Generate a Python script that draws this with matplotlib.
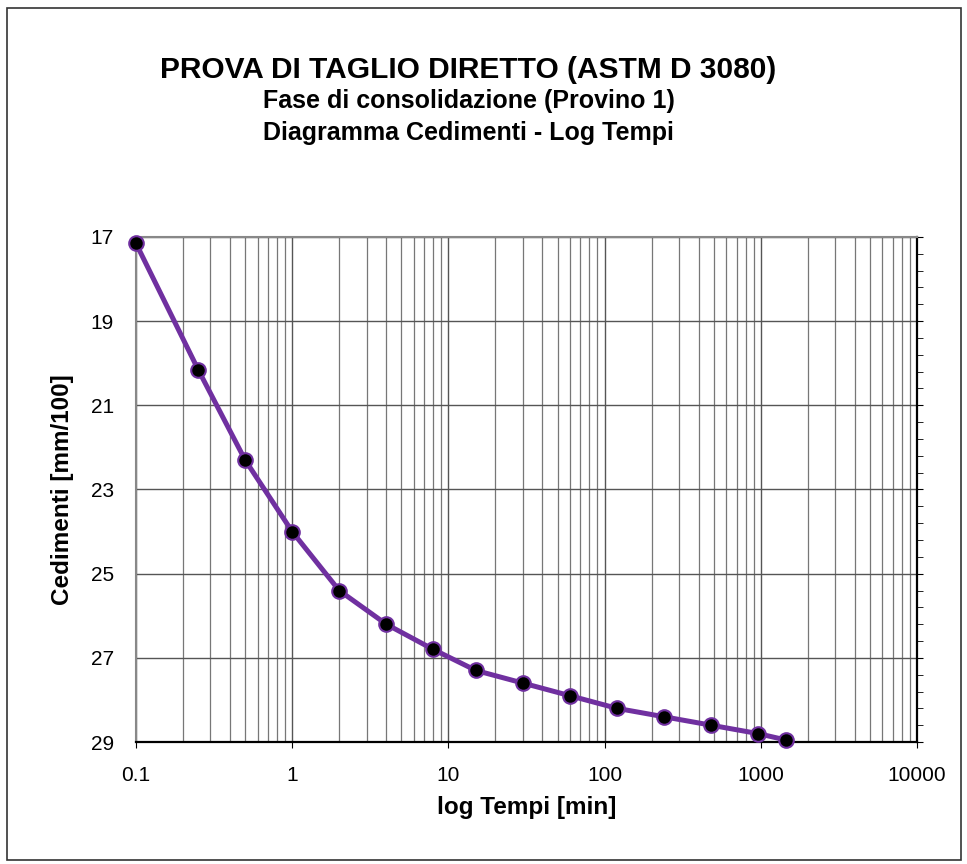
import matplotlib
matplotlib.use("Agg")
import matplotlib.pyplot as plt
from matplotlib.ticker import FixedLocator, NullFormatter, LogLocator
from matplotlib.patches import Rectangle

plt.rcParams["font.family"] = ["Liberation Sans", "DejaVu Sans"]

tempi = [0.1, 0.25, 0.5, 1, 2, 4, 8, 15, 30, 60, 120, 240, 480, 960, 1440]
cedimenti = [17.15, 20.15, 22.3, 24.0, 25.4, 26.2, 26.8, 27.3, 27.6, 27.9, 28.2, 28.4, 28.6, 28.8, 28.95]

y_ticks = [17, 19, 21, 23, 25, 27, 29]
x_ticks = [0.1, 1, 10, 100, 1000, 10000]
x_labels = ["0.1", "1", "10", "100", "1000", "10000"]

fig = plt.figure(figsize=(9.67, 8.64), dpi=100)
fig.patches.append(Rectangle((0.007, 0.005), 0.987, 0.986, transform=fig.transFigure,
                             fill=False, edgecolor="#333333", linewidth=1.2))

ax = fig.add_axes([0.1406, 0.1412, 0.8077, 0.5845])
ax.set_xscale("log")
ax.set_xlim(0.1, 10000)
ax.set_ylim(29, 17)

ax.xaxis.set_major_locator(FixedLocator(x_ticks))
ax.set_xticklabels(x_labels)
ax.xaxis.set_minor_locator(LogLocator(base=10, subs=range(2, 10)))
ax.xaxis.set_minor_formatter(NullFormatter())
ax.set_yticks(y_ticks)
ax.set_yticks([17 + 0.4 * i for i in range(31)], minor=True)

ax.grid(True, which="major", axis="both", color="#555555", linewidth=1)
ax.grid(True, which="minor", axis="x", color="#777777", linewidth=0.9)

ax.tick_params(axis="x", which="major", direction="out", length=4, labelsize=15, pad=13)
ax.tick_params(axis="x", which="minor", length=0)
ax.tick_params(axis="y", which="both", left=False, right=True, labelleft=True,
               labelright=False, direction="out", length=4, labelsize=15, pad=12)

for s in ["left", "top"]:
    ax.spines[s].set_color("#888888")
    ax.spines[s].set_linewidth(1.5)
for s in ["bottom", "right"]:
    ax.spines[s].set_color("black")
    ax.spines[s].set_linewidth(1.6)

ax.plot(tempi, cedimenti, color="#7030A0", linewidth=3.6, marker="o", markersize=10.5,
        markerfacecolor="black", markeredgecolor="#7030A0", markeredgewidth=1.5,
        clip_on=False, zorder=5)

ax.set_xlabel("log Tempi [min]", fontsize=17.5, fontweight="bold", labelpad=8)
ax.set_ylabel("Cedimenti [mm/100]", fontsize=17.5, fontweight="bold", labelpad=12)

fig.text(0.4845, 0.919, "PROVA DI TAGLIO DIRETTO (ASTM D 3080)", ha="center", va="center",
         fontsize=21.5, fontweight="bold")
fig.text(0.4845, 0.883, "Fase di consolidazione (Provino 1)", ha="center", va="center",
         fontsize=18, fontweight="bold")
fig.text(0.4845, 0.846, "Diagramma Cedimenti - Log Tempi", ha="center", va="center",
         fontsize=18, fontweight="bold")

fig.savefig("out.png", dpi=100)
